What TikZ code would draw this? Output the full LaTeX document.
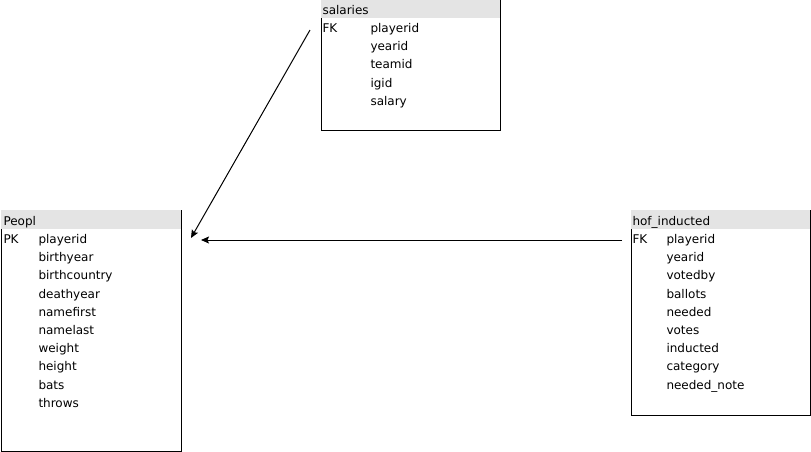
\documentclass[tikz,border=0pt]{standalone}
\usepackage{fontspec}
\setmainfont{DejaVu Sans}
\usetikzlibrary{arrows.meta,positioning}
\definecolor{headgray}{HTML}{E4E4E4}

\begin{document}
\begin{tikzpicture}[x=1pt,y=-1pt,->,>={Stealth[length=8pt,width=7pt,inset=1.5pt]},line width=1pt,
                    node distance=18.2pt]
  \tikzstyle{table}=[rectangle,draw=black,fill=white,inner sep=0pt,anchor=north west]
  \tikzstyle{head}=[rectangle,draw=none,fill=headgray,inner sep=0pt,anchor=north west]
  \tikzstyle{field}=[inner sep=0pt,anchor=base west,font=\fontsize{12}{14}\selectfont]

  \useasboundingbox (0,0) rectangle (811,451);

  % People
  \node[table,minimum width=180pt,minimum height=240.5pt] (pplBox) at (0.5,210) {};
  \node[head,minimum width=180pt,minimum height=18.5pt] (pplHead) at (0,209.5) {};
  \node[field] (pplTitle) at (3,225) {Peopl};
  \node[field] (pplKey) at (3,243.5) {PK};
  \node[field] (ppl1) at (38,243.5) {playerid};
  \node[below=of ppl1.base west,field] (ppl2) {birthyear};
  \node[below=of ppl2.base west,field] (ppl3) {birthcountry};
  \node[below=of ppl3.base west,field] (ppl4) {deathyear};
  \node[below=of ppl4.base west,field] (ppl5) {namefirst};
  \node[below=of ppl5.base west,field] (ppl6) {namelast};
  \node[below=of ppl6.base west,field] (ppl7) {weight};
  \node[below=of ppl7.base west,field] (ppl8) {height};
  \node[below=of ppl8.base west,field] (ppl9) {bats};
  \node[below=of ppl9.base west,field] (ppl10) {throws};

  % salaries
  \node[table,minimum width=179.5pt,minimum height=131pt] (salBox) at (320.5,-1) {};
  \node[head,minimum width=179.5pt,minimum height=19.5pt] (salHead) at (320,-2) {};
  \node[field] (salTitle) at (322,14) {salaries};
  \node[field] (salKey) at (322,32.5) {FK};
  \node[field] (sal1) at (370,32.5) {playerid};
  \node[below=of sal1.base west,field] (sal2) {yearid};
  \node[below=of sal2.base west,field] (sal3) {teamid};
  \node[below=of sal3.base west,field] (sal4) {igid};
  \node[below=of sal4.base west,field] (sal5) {salary};

  % hof_inducted
  \node[table,minimum width=179.5pt,minimum height=205pt] (hofBox) at (630.5,210) {};
  \node[head,minimum width=179.5pt,minimum height=18.5pt] (hofHead) at (630,209.5) {};
  \node[field] (hofTitle) at (632,225) {hof\_inducted};
  \node[field] (hofKey) at (632,243.5) {FK};
  \node[field] (hof1) at (666,243.5) {playerid};
  \node[below=of hof1.base west,field] (hof2) {yearid};
  \node[below=of hof2.base west,field] (hof3) {votedby};
  \node[below=of hof3.base west,field] (hof4) {ballots};
  \node[below=of hof4.base west,field] (hof5) {needed};
  \node[below=of hof5.base west,field] (hof6) {votes};
  \node[below=of hof6.base west,field] (hof7) {inducted};
  \node[below=of hof7.base west,field] (hof8) {category};
  \node[below=of hof8.base west,field] (hof9) {needed\_note};

  \coordinate (salOut) at (310,30);
  \coordinate (pplIn1) at (191,238);
  \coordinate (hofOut) at (622,240);
  \coordinate (pplIn2) at (201,240);

  \path
(salOut) edge [] (pplIn1)
(hofOut) edge [] (pplIn2)
;

\end{tikzpicture}
\end{document}
